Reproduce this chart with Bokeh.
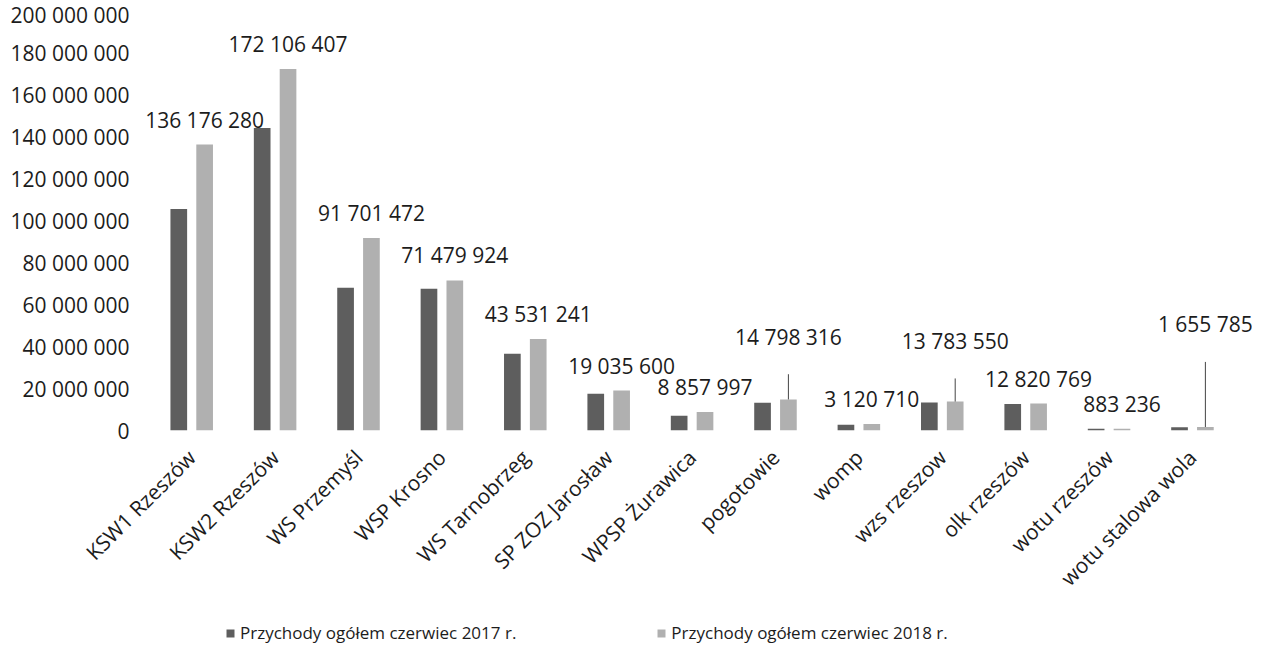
from bokeh.plotting import figure
from bokeh.layouts import column
from bokeh.models import (Range1d, FixedTicker, ColumnDataSource,
                          LabelSet, Legend, LegendItem)
from bokeh.core.properties import value
from bokeh.embed import file_html
from bokeh.resources import INLINE

categories = ["KSW1 Rzeszów", "KSW2 Rzeszów", "WS Przemyśl", "WSP Krosno",
              "WS Tarnobrzeg", "SP ZOZ Jarosław", "WPSP Żurawica", "pogotowie",
              "womp", "wzs rzeszow", "olk rzeszów", "wotu rzeszów",
              "wotu stalowa wola"]
rev_2017 = [105_500_000, 144_000_000, 68_000_000, 67_500_000, 36_500_000,
            17_500_000, 7_000_000, 13_200_000, 2_700_000, 13_300_000,
            12_600_000, 850_000, 1_600_000]
rev_2018 = [136_176_280, 172_106_407, 91_701_472, 71_479_924, 43_531_241,
            19_035_600, 8_857_997, 14_798_316, 3_120_710, 13_783_550,
            12_820_769, 883_236, 1_655_785]
series_names = ["Przychody ogółem czerwiec 2017 r.",
                "Przychody ogółem czerwiec 2018 r."]
# extra lift of the moved data labels (drawn with leader lines)
label_lift = [0, 0, 0, 0, 0, 0, 0, 18_000_000, 0, 17_000_000, 0, 0, 37_000_000]
y_ticks = [0, 20_000_000, 40_000_000, 60_000_000, 80_000_000, 100_000_000,
           120_000_000, 140_000_000, 160_000_000, 180_000_000, 200_000_000]
y_tick_labels = ["0", "20 000 000", "40 000 000", "60 000 000", "80 000 000",
                 "100 000 000", "120 000 000", "140 000 000", "160 000 000",
                 "180 000 000", "200 000 000"]

FONT = "Open Sans"
TXT = "#1c1c1c"
C17 = "#5e5e5e"
C18 = "#b0b0b0"
LEADER_GAP = 6_000_000
OFF = 0.155
BAR_W = 0.2

n = len(categories)
x_idx = list(range(n))
label_texts = [f"{v:,}".replace(",", " ") for v in rev_2018]
label_y = [v + l for v, l in zip(rev_2018, label_lift)]

src = ColumnDataSource(dict(
    x17=[i - OFF for i in x_idx], x18=[i + OFF for i in x_idx],
    v17=rev_2017, v18=rev_2018, txt=label_texts, ly=label_y))

lead_idx = [i for i, l in enumerate(label_lift) if l > 0]
lead_src = ColumnDataSource(dict(
    x=[i + OFF for i in lead_idx],
    y0=[rev_2018[i] for i in lead_idx],
    y1=[label_y[i] - LEADER_GAP for i in lead_idx],
))

p = figure(width=1252, height=605,
           x_range=Range1d(-0.71, 12.72),
           y_range=Range1d(0, 200_000_000),
           output_backend="svg", toolbar_location=None,
           min_border_left=132, min_border_right=0,
           min_border_top=10, min_border_bottom=175)
p.outline_line_color = None
p.grid.grid_line_color = None

r17 = p.vbar(x="x17", top="v17", width=BAR_W, source=src,
             fill_color=C17, line_color=None)
r18 = p.vbar(x="x18", top="v18", width=BAR_W, source=src,
             fill_color=C18, line_color=None)

p.segment(x0="x", y0="y0", x1="x", y1="y1", source=lead_src,
          line_color="#444444", line_width=1)

labels = LabelSet(x="x18", y="ly", text="txt", source=src,
                  text_align="center", text_baseline="middle", y_offset=25,
                  text_font=value(FONT), text_font_size="21px",
                  text_color=TXT)
p.add_layout(labels)

# y axis
p.yaxis.ticker = FixedTicker(ticks=y_ticks)
p.yaxis.major_label_overrides = {t: s for t, s in zip(y_ticks, y_tick_labels)}
p.yaxis.axis_line_color = None
p.yaxis.major_tick_line_color = None
p.yaxis.minor_tick_line_color = None
p.yaxis.major_tick_out = 0
p.yaxis.major_tick_in = 0
p.yaxis.major_label_text_font = FONT
p.yaxis.major_label_text_font_size = "21px"
p.yaxis.major_label_text_color = TXT
p.yaxis.major_label_standoff = 3

# x axis
p.xaxis.ticker = FixedTicker(ticks=x_idx)
p.xaxis.major_label_overrides = {i: c for i, c in zip(x_idx, categories)}
p.xaxis.axis_line_color = None
p.xaxis.major_tick_line_color = None
p.xaxis.minor_tick_line_color = None
p.xaxis.major_tick_out = 0
p.xaxis.major_tick_in = 0
p.xaxis.major_label_orientation = 0.785398
p.xaxis.major_label_text_font = FONT
p.xaxis.major_label_text_font_size = "21px"
p.xaxis.major_label_text_color = TXT
p.xaxis.major_label_standoff = 23

# legend strip below the chart (zero-height swatch renderers)
pl = figure(width=1252, height=40, output_backend="svg", toolbar_location=None,
            x_range=Range1d(0, 1), y_range=Range1d(1, 2),
            x_axis_location=None, y_axis_location=None,
            min_border_left=0, min_border_right=0,
            min_border_top=0, min_border_bottom=0)
pl.outline_line_color = None
pl.grid.grid_line_color = None
swatch = ColumnDataSource(dict(x=[0], top=[0]))
k17 = pl.vbar(x="x", top="top", width=0.01, source=swatch,
              fill_color=C17, line_color=None)
k18 = pl.vbar(x="x", top="top", width=0.01, source=swatch,
              fill_color=C18, line_color=None)

legend = Legend(items=[LegendItem(label=series_names[0], renderers=[k17]),
                       LegendItem(label=series_names[1], renderers=[k18])],
                orientation="horizontal", location=(93, 1),
                label_text_font=FONT, label_text_font_size="17px",
                label_text_color=TXT, glyph_width=10, glyph_height=10,
                label_standoff=5, spacing=140, padding=0, margin=0,
                border_line_color=None, background_fill_alpha=0)
pl.add_layout(legend, "center")

layout = column(p, pl, spacing=0)
open("out.html", "w").write(file_html(layout, INLINE))
